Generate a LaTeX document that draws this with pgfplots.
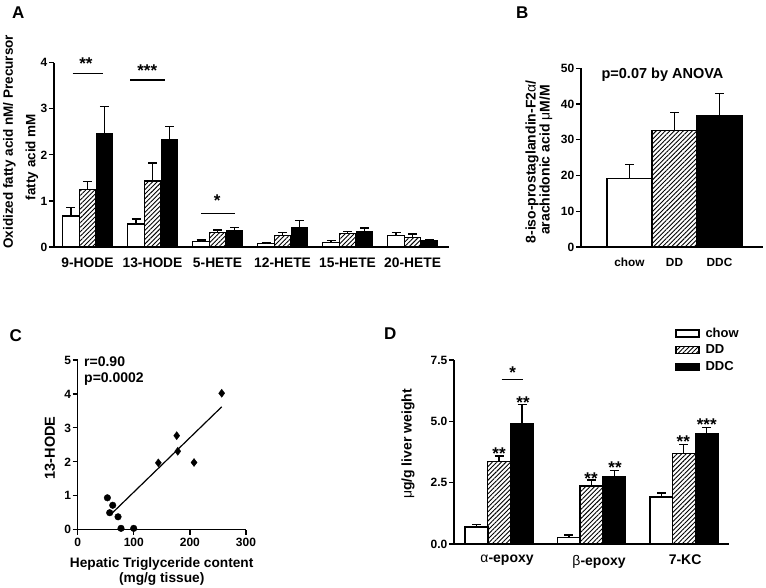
\documentclass[border=0pt]{standalone}
\usepackage{fontspec}
\setmainfont{Liberation Sans}
\usepackage{pgfplots}
\pgfplotsset{compat=1.18}
\usepackage{pgfplotstable}
\usetikzlibrary{patterns.meta}
\newcommand\fs[1]{\fontsize{#1}{#1}\selectfont\bfseries}

\pgfplotstableread{
x w we h he b be
0 0.67 0.19 1.25 0.17 2.46 0.59
1 0.50 0.11 1.43 0.39 2.34 0.27
2 0.12 0.03 0.31 0.06 0.36 0.07
3 0.08 0.02 0.25 0.07 0.41 0.16
4 0.10 0.04 0.29 0.05 0.33 0.08
5 0.25 0.07 0.20 0.08 0.14 0.02
}\tabA

\pgfplotstableread{
x y
52.9 0.94
62.4 0.72
57.0 0.50
71.9 0.38
77.2 0.04
99.8 0.04
}\tabCc

\pgfplotstableread{
x y
143.8 1.97
176.5 2.77
178.3 2.31
207.4 1.98
256.7 4.02
}\tabCd

\pgfplotstableread{
x w we h he b be
0 0.69 0.11 3.37 0.22 4.90 0.78
1 0.26 0.11 2.36 0.25 2.74 0.25
2 1.92 0.16 3.70 0.36 4.50 0.24
}\tabD

\pgfplotsset{
 prism/.style={scale only axis, axis lines=left, axis line style={-, line width=1.3pt},
   tick style={line width=1.2pt, black}, major tick length=5pt, tick align=outside,
   /pgf/number format/assume math mode=true, tick label style={font=\fs{12}},
   yticklabel style={inner sep=1.5pt}, clip=false},
 barx/.style={xtick style={draw=none}, xticklabel style={inner sep=0pt, anchor=north, yshift=-6pt}},
 wbar/.style={fill=white, draw=black, line width=1.3pt},
 hbar/.style={draw=black, line width=1.3pt, pattern={Lines[angle=45,distance=3.2pt,line width=0.9pt]}},
 bbar/.style={fill=black, draw=black, line width=1.3pt},
 eb/.style={error bars/.cd, y dir=plus, y explicit, error bar style={line width=1.3pt, solid},
   error mark options={rotate=90, line width=1.3pt, mark size=4.5pt, solid}},
}

\begin{document}
\begin{tikzpicture}[x=1pt,y=1pt]
\path[use as bounding box] (0,0) rectangle (766,588);

% ---------------- Panel A ----------------
\begin{axis}[prism, barx, at={(54pt,341pt)}, anchor=south west,
  width=395pt, height=184.3pt, ybar=0pt, bar width=16.5pt,
  xmin=-0.515, xmax=5.56, ymin=0, ymax=4, ytick={0,1,2,3,4},
  xtick={0,...,5}, xticklabels={9-HODE,13-HODE,5-HETE,12-HETE,15-HETE,20-HETE},
  xticklabel style={font=\fs{13.8}}]
\addplot[wbar, bar shift=-16.5pt, eb] table[x=x,y=w,y error=we]{\tabA};
\addplot[hbar, bar shift=0pt, eb] table[x=x,y=h,y error=he]{\tabA};
\addplot[bbar, bar shift=17pt, eb] table[x=x,y=b,y error=be]{\tabA};
\end{axis}
\node[rotate=90, font=\fs{13.5}] at (9.5,446.3) {Oxidized fatty acid nM/ Precursor};
\node[rotate=90, font=\fs{13.5}] at (32,431) {fatty acid mM};
\draw[line width=1.3pt] (72.7,514.7) -- (103.3,514.7);
\node[anchor=base, font=\fs{17}, inner sep=0pt] at (86,518.2) {**};
\draw[line width=1.3pt] (130,508) -- (165,508);
\node[anchor=base, font=\fs{17}, inner sep=0pt] at (147.3,511.5) {***};
\draw[line width=1.3pt] (201.3,374.7) -- (234.7,374.7);
\node[anchor=base, font=\fs{17}, inner sep=0pt] at (217.3,381.5) {*};
\node[anchor=base west, font=\fs{17}, inner sep=0pt] at (12,569.7) {A};

% ---------------- Panel B ----------------
\begin{axis}[prism, barx, at={(581pt,341pt)}, anchor=south west,
  width=182pt, height=178.7pt, ybar=0pt, bar width=45pt,
  xmin=-1.078, xmax=2.967, ymin=0, ymax=50, ytick={0,10,...,50},
  xtick={0,1,2}, xticklabels={chow,DD,DDC},
  xticklabel style={font=\fs{11.8}}]
\addplot[wbar, bar shift=0pt, eb] table[x=x,y=y,y error=e]{
x y e
0 19.2 3.8
};
\addplot[hbar, bar shift=0pt, eb] table[x=x,y=y,y error=e]{
x y e
1 32.5 5.2
};
\addplot[bbar, bar shift=0pt, eb] table[x=x,y=y,y error=e]{
x y e
2 36.8 6.1
};
\end{axis}
\node[rotate=90, font=\fs{14}] at (532,426) {8-iso-prostaglandin-F2\textmd{α}/};
\node[rotate=90, font=\fs{14}] at (545.8,428) {arachidonic acid \textmd{μ}M/M};
\node[anchor=base, font=\fs{14.5}, inner sep=0pt] at (662.5,509.7) {p=0.07 by ANOVA};
\node[anchor=base west, font=\fs{17}, inner sep=0pt] at (516,569.7) {B};

% ---------------- Panel C ----------------
\begin{axis}[prism, at={(77.7pt,58.3pt)}, anchor=south west,
  width=168.3pt, height=169.7pt,
  xmin=0, xmax=300, ymin=0, ymax=5, xtick={0,100,200,300}, ytick={0,...,5}]
\addplot[only marks, mark=*, mark size=3.3pt, black] table[x=x,y=y]{\tabCc};
\addplot[only marks, mark=diamond*, mark size=4pt, black] table[x=x,y=y]{\tabCd};
\addplot[black, line width=1.2pt, no marks] coordinates {(59,0.45) (256.7,3.62)};
\end{axis}
\node[anchor=base west, font=\fs{14}, inner sep=0pt] at (84,221) {r=0.90};
\node[anchor=base west, font=\fs{14}, inner sep=0pt] at (84,205) {p=0.0002};
\node[rotate=90, font=\fs{14.5}] at (50,140) {13-HODE};
\node[anchor=base, font=\fs{13.7}, inner sep=0pt] at (161.7,20) {Hepatic Triglyceride content};
\node[anchor=base, font=\fs{13.7}, inner sep=0pt] at (161.7,5.5) {(mg/g tissue)};
\node[anchor=base west, font=\fs{17}, inner sep=0pt] at (9.5,246.3) {C};

% ---------------- Panel D ----------------
\begin{axis}[prism, barx, at={(454pt,44pt)}, anchor=south west,
  width=275pt, height=184pt, ybar=0pt, bar width=22.8pt,
  xmin=-0.4875, xmax=2.49, ymin=0, ymax=7.5, ytick={0,2.5,5,7.5},
  yticklabel style={/pgf/number format/.cd, fixed, fixed zerofill, precision=1},
  xtick={0.087,1.083,2.015}, xticklabels={\textmd{α}-epoxy,\textmd{β}-epoxy,7-KC},
  xticklabel style={font=\fs{14}},
  legend style={at={(rel axis cs:0.804,1.18)}, anchor=north west, draw=none, fill=none,
    font=\fs{13}, inner sep=0pt, row sep=4pt, cells={anchor=west},
    nodes={inner sep=1pt},
    /tikz/every odd column/.append style={column sep=5pt}}]
\addlegendimage{legend image code/.code={\draw[fill=white,draw=black,line width=1.2pt] (0pt,-3.5pt) rectangle (23pt,3.5pt);}}
\addlegendimage{legend image code/.code={\draw[draw=black,line width=1.2pt,pattern={Lines[angle=45,distance=3.2pt,line width=0.9pt]}] (0pt,-3.5pt) rectangle (23pt,3.5pt);}}
\addlegendimage{legend image code/.code={\draw[fill=black,draw=black,line width=1.2pt] (0pt,-3.5pt) rectangle (23pt,3.5pt);}}
\legend{chow,DD,DDC}
\addplot[wbar, bar shift=-22.5pt, eb] table[x=x,y=w,y error=we]{\tabD};
\addplot[hbar, bar shift=0pt, eb] table[x=x,y=h,y error=he]{\tabD};
\addplot[bbar, bar shift=23pt, eb] table[x=x,y=b,y error=be]{\tabD};
\end{axis}
\node[rotate=90, font=\fs{14}] at (408,144) {\textmd{μ}g/g liver weight};
\node[anchor=base, font=\fs{17}, inner sep=0pt] at (499,128.2) {**};
\node[anchor=base, font=\fs{17}, inner sep=0pt] at (523,179.2) {**};
\draw[line width=1.3pt] (501.7,208.7) -- (523.3,208.7);
\node[anchor=base, font=\fs{17}, inner sep=0pt] at (512.7,209.9) {*};
\node[anchor=base, font=\fs{17}, inner sep=0pt] at (591,103.9) {**};
\node[anchor=base, font=\fs{17}, inner sep=0pt] at (615,114.2) {**};
\node[anchor=base, font=\fs{17}, inner sep=0pt] at (683.3,140.5) {**};
\node[anchor=base, font=\fs{17}, inner sep=0pt] at (706.7,157.5) {***};
\node[anchor=base west, font=\fs{17}, inner sep=0pt] at (384,248) {D};
\end{tikzpicture}
\end{document}
